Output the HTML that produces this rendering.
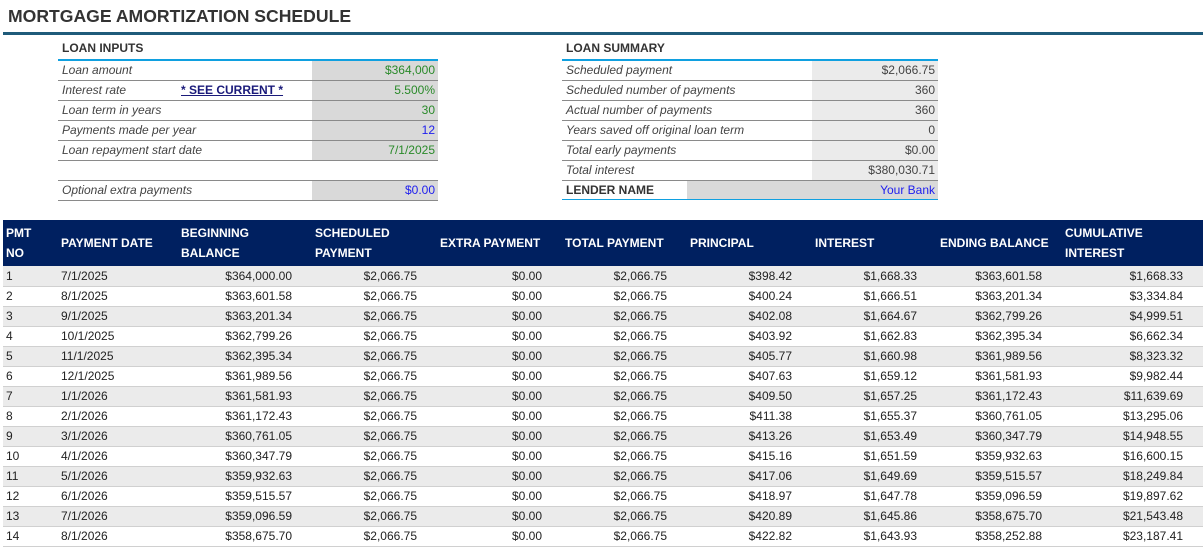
<!DOCTYPE html>
<html><head><meta charset="utf-8"><style>
*{margin:0;padding:0;box-sizing:border-box}
body{width:1203px;height:534px;overflow:hidden;background:#fff;font-family:"Liberation Sans",sans-serif;color:#333;position:relative}
.a{position:absolute;white-space:nowrap}
.title{left:8px;top:6px;font-size:17.6px;font-weight:bold;color:#333}
.rule{left:3px;top:32px;width:1200px;height:3px;background:#1f5b7a}
.sec{font-size:12px;font-weight:bold;color:#333}
.blue{height:2px;background:#10a0e0}
.row{height:20px;border-bottom:1px solid #8a8a8a;font-size:12px;font-style:italic;color:#444;line-height:19px}
.row span{position:absolute;left:4px}
.val{position:absolute;top:0;height:19px;background:#d9d9d9;text-align:right;padding-right:3px;font-style:normal}
table{position:absolute;left:3px;top:220px;border-collapse:collapse;font-size:12px;table-layout:fixed}
th{background:#002060;color:#fff;font-weight:bold;text-align:left;vertical-align:middle;height:46px;line-height:20px;padding-left:12px;font-size:12px}
th.p1{padding-left:3px}
th.p2{padding-left:5px}
td{height:20px;border-bottom:1px solid #d0d0d0;text-align:right;padding-right:11px;color:#222}
td.l{text-align:left;padding-left:3px;padding-right:0}
td.d{text-align:left;padding-left:5px;padding-right:0}
td.c{padding-right:20px}
tr.o td{background:#ebebeb}
</style></head><body>
<div class="a title">MORTGAGE AMORTIZATION SCHEDULE</div>
<div class="a rule"></div>

<div class="a sec" style="left:62px;top:41px">LOAN INPUTS</div>
<div class="a blue" style="left:58px;top:59px;width:380px"></div>
<div class="a row" style="left:58px;top:61px;width:380px"><span>Loan amount</span><div class="val" style="left:254px;width:126px;color:#2a8a2a">$364,000</div></div>
<div class="a row" style="left:58px;top:81px;width:380px"><span>Interest rate</span><span style="left:123px;font-style:normal;font-weight:bold;color:#1a1a7a;text-decoration:underline">* SEE CURRENT *</span><div class="val" style="left:254px;width:126px;color:#2a8a2a">5.500%</div></div>
<div class="a row" style="left:58px;top:101px;width:380px"><span>Loan term in years</span><div class="val" style="left:254px;width:126px;color:#2a8a2a">30</div></div>
<div class="a row" style="left:58px;top:121px;width:380px"><span>Payments made per year</span><div class="val" style="left:254px;width:126px;color:#2020ee">12</div></div>
<div class="a row" style="left:58px;top:141px;width:380px"><span>Loan repayment start date</span><div class="val" style="left:254px;width:126px;color:#2a8a2a">7/1/2025</div></div>
<div class="a" style="left:58px;top:180px;width:380px;height:1px;background:#8a8a8a"></div>
<div class="a row" style="left:58px;top:181px;width:380px"><span>Optional extra payments</span><div class="val" style="left:254px;width:126px;color:#2020ee">$0.00</div></div>

<div class="a sec" style="left:566px;top:41px">LOAN SUMMARY</div>
<div class="a blue" style="left:562px;top:59px;width:376px"></div>
<div class="a row" style="left:562px;top:61px;width:376px"><span>Scheduled payment</span><div class="val" style="left:250px;width:126px;background:#ebebeb">$2,066.75</div></div>
<div class="a row" style="left:562px;top:81px;width:376px"><span>Scheduled number of payments</span><div class="val" style="left:250px;width:126px;background:#ebebeb">360</div></div>
<div class="a row" style="left:562px;top:101px;width:376px"><span>Actual number of payments</span><div class="val" style="left:250px;width:126px;background:#ebebeb">360</div></div>
<div class="a row" style="left:562px;top:121px;width:376px"><span>Years saved off original loan term</span><div class="val" style="left:250px;width:126px;background:#ebebeb">0</div></div>
<div class="a row" style="left:562px;top:141px;width:376px"><span>Total early payments</span><div class="val" style="left:250px;width:126px;background:#ebebeb">$0.00</div></div>
<div class="a row" style="left:562px;top:161px;width:376px"><span>Total interest</span><div class="val" style="left:250px;width:126px;background:#ebebeb">$380,030.71</div></div>
<div class="a" style="left:562px;top:181px;width:376px;height:19px;font-size:12px;line-height:19px"><span style="position:absolute;left:4px;font-weight:bold;color:#333">LENDER NAME</span><div class="val" style="left:125px;width:251px;color:#2020ee">Your Bank</div></div>
<div class="a blue" style="left:562px;top:199px;width:376px;height:1px"></div>

<table>
<colgroup><col style="width:53px"><col style="width:122px"><col style="width:125px"><col style="width:125px"><col style="width:125px"><col style="width:125px"><col style="width:125px"><col style="width:125px"><col style="width:125px"><col style="width:150px"></colgroup>
<tr><th class="p1">PMT<br>NO</th><th class="p2">PAYMENT DATE</th><th class="p1">BEGINNING<br>BALANCE</th><th>SCHEDULED<br>PAYMENT</th><th>EXTRA PAYMENT</th><th>TOTAL PAYMENT</th><th>PRINCIPAL</th><th>INTEREST</th><th>ENDING BALANCE</th><th>CUMULATIVE<br>INTEREST</th></tr>
<tr class="o"><td class="l">1</td><td class="d">7/1/2025</td><td>$364,000.00</td><td>$2,066.75</td><td>$0.00</td><td>$2,066.75</td><td>$398.42</td><td>$1,668.33</td><td>$363,601.58</td><td class="c">$1,668.33</td></tr>
<tr><td class="l">2</td><td class="d">8/1/2025</td><td>$363,601.58</td><td>$2,066.75</td><td>$0.00</td><td>$2,066.75</td><td>$400.24</td><td>$1,666.51</td><td>$363,201.34</td><td class="c">$3,334.84</td></tr>
<tr class="o"><td class="l">3</td><td class="d">9/1/2025</td><td>$363,201.34</td><td>$2,066.75</td><td>$0.00</td><td>$2,066.75</td><td>$402.08</td><td>$1,664.67</td><td>$362,799.26</td><td class="c">$4,999.51</td></tr>
<tr><td class="l">4</td><td class="d">10/1/2025</td><td>$362,799.26</td><td>$2,066.75</td><td>$0.00</td><td>$2,066.75</td><td>$403.92</td><td>$1,662.83</td><td>$362,395.34</td><td class="c">$6,662.34</td></tr>
<tr class="o"><td class="l">5</td><td class="d">11/1/2025</td><td>$362,395.34</td><td>$2,066.75</td><td>$0.00</td><td>$2,066.75</td><td>$405.77</td><td>$1,660.98</td><td>$361,989.56</td><td class="c">$8,323.32</td></tr>
<tr><td class="l">6</td><td class="d">12/1/2025</td><td>$361,989.56</td><td>$2,066.75</td><td>$0.00</td><td>$2,066.75</td><td>$407.63</td><td>$1,659.12</td><td>$361,581.93</td><td class="c">$9,982.44</td></tr>
<tr class="o"><td class="l">7</td><td class="d">1/1/2026</td><td>$361,581.93</td><td>$2,066.75</td><td>$0.00</td><td>$2,066.75</td><td>$409.50</td><td>$1,657.25</td><td>$361,172.43</td><td class="c">$11,639.69</td></tr>
<tr><td class="l">8</td><td class="d">2/1/2026</td><td>$361,172.43</td><td>$2,066.75</td><td>$0.00</td><td>$2,066.75</td><td>$411.38</td><td>$1,655.37</td><td>$360,761.05</td><td class="c">$13,295.06</td></tr>
<tr class="o"><td class="l">9</td><td class="d">3/1/2026</td><td>$360,761.05</td><td>$2,066.75</td><td>$0.00</td><td>$2,066.75</td><td>$413.26</td><td>$1,653.49</td><td>$360,347.79</td><td class="c">$14,948.55</td></tr>
<tr><td class="l">10</td><td class="d">4/1/2026</td><td>$360,347.79</td><td>$2,066.75</td><td>$0.00</td><td>$2,066.75</td><td>$415.16</td><td>$1,651.59</td><td>$359,932.63</td><td class="c">$16,600.15</td></tr>
<tr class="o"><td class="l">11</td><td class="d">5/1/2026</td><td>$359,932.63</td><td>$2,066.75</td><td>$0.00</td><td>$2,066.75</td><td>$417.06</td><td>$1,649.69</td><td>$359,515.57</td><td class="c">$18,249.84</td></tr>
<tr><td class="l">12</td><td class="d">6/1/2026</td><td>$359,515.57</td><td>$2,066.75</td><td>$0.00</td><td>$2,066.75</td><td>$418.97</td><td>$1,647.78</td><td>$359,096.59</td><td class="c">$19,897.62</td></tr>
<tr class="o"><td class="l">13</td><td class="d">7/1/2026</td><td>$359,096.59</td><td>$2,066.75</td><td>$0.00</td><td>$2,066.75</td><td>$420.89</td><td>$1,645.86</td><td>$358,675.70</td><td class="c">$21,543.48</td></tr>
<tr><td class="l">14</td><td class="d">8/1/2026</td><td>$358,675.70</td><td>$2,066.75</td><td>$0.00</td><td>$2,066.75</td><td>$422.82</td><td>$1,643.93</td><td>$358,252.88</td><td class="c">$23,187.41</td></tr>
</table>
</body></html>
